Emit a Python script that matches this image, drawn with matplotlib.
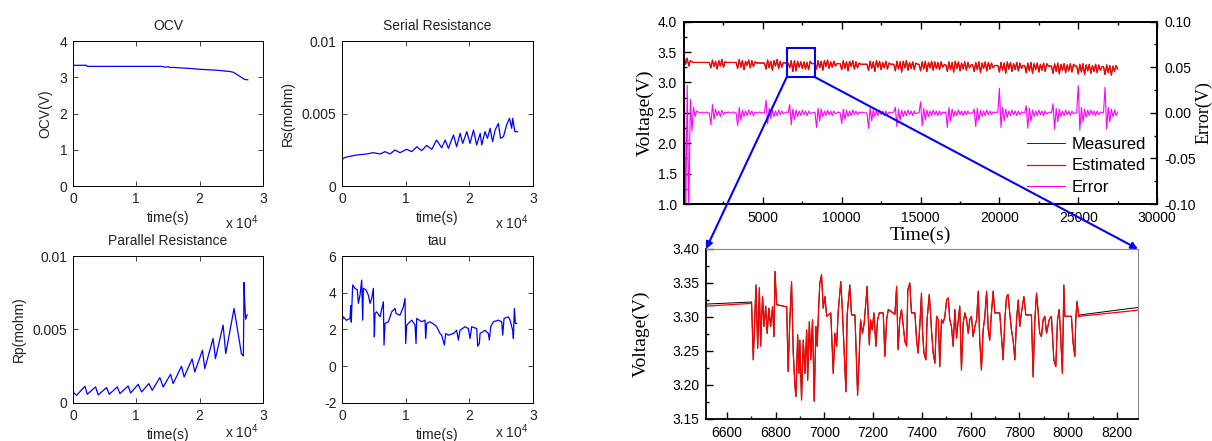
import matplotlib
matplotlib.use('Agg')
import matplotlib.pyplot as plt
import numpy as np
from matplotlib.patches import Rectangle, ConnectionPatch
from matplotlib.ticker import MultipleLocator

plt.rcParams['font.family'] = ['Liberation Sans', 'DejaVu Sans']
plt.rcParams['mathtext.fontset'] = 'custom'
plt.rcParams['mathtext.rm'] = 'Liberation Sans'
plt.rcParams['mathtext.it'] = 'Liberation Sans:italic'

# ---------------- left: identified parameters ----------------
t_ocv = [0, 2100, 2300, 14000, 14500, 15000, 15300, 16000, 18700, 20000, 22100,
         23000, 24700, 25300, 26300, 27100, 27600]
v_ocv = [3.33, 3.33, 3.30, 3.30, 3.28, 3.29, 3.27, 3.27, 3.24, 3.22, 3.20,
         3.19, 3.16, 3.14, 3.03, 2.94, 2.93]

t_rs = [0, 30, 150, 700, 2300, 3900, 4900, 6000, 6750, 7550,
        8300, 9100, 10150, 10950, 11750, 12500, 13300, 14100, 14850, 15650,
        16200, 16700, 17500, 18000, 18550, 18950, 19600, 20100, 20650, 21150,
        21700, 21950, 22450, 22850, 23250, 23650, 24050, 24550, 24900, 25350,
        25850, 26300, 26650, 26800, 27150, 27550]
v_rs = [0.0021, 0.0017, 0.0019, 0.0020, 0.00214, 0.00221, 0.0023, 0.00221, 0.00237, 0.00221,
        0.00248, 0.0023, 0.00253, 0.00237, 0.00271, 0.00244, 0.0028, 0.00253, 0.00317, 0.00264,
        0.00317, 0.0026, 0.00352, 0.00271, 0.00363, 0.00294, 0.00375, 0.00294, 0.00386, 0.00283,
        0.00363, 0.00283, 0.00375, 0.00329, 0.00398, 0.00306, 0.00386, 0.00432, 0.00329, 0.0034,
        0.00421, 0.00467, 0.00398, 0.00467, 0.00375, 0.00375]

t_rp = [0, 100, 580, 1890, 2260, 3570, 3990, 5310, 5730, 6990,
        7410, 8720, 9090, 10300, 10830, 11980, 12510, 13720, 14240, 15400,
        15820, 17130, 17550, 18810, 19230, 20440, 20810, 22120, 22490, 23700,
        24120, 25430, 26590, 26900, 27010, 27100, 27250, 27500]
v_rp = [0.0012, 0.0007, 0.00052, 0.00114, 0.00059, 0.00109, 0.00055, 0.00105, 0.00059, 0.00109,
        0.00064, 0.00116, 0.00068, 0.00127, 0.00075, 0.00132, 0.00086, 0.00173, 0.00109, 0.00195,
        0.00132, 0.0025, 0.00177, 0.0030, 0.00211, 0.00359, 0.00234, 0.00439, 0.00302, 0.0053,
        0.00336, 0.00643, 0.00336, 0.0032, 0.0082, 0.0070, 0.0057, 0.0060]

t_tau = [0, 60, 209, 700, 1257, 1361, 1450, 1675, 2042, 2408, 2565, 2827, 3089, 3246, 3351,
         3770, 4136, 4398, 4660, 4921, 5079, 5183, 5445, 5969, 6492, 6597, 6754, 7277, 7801,
         8325, 8482, 9110, 9634, 9895, 10000, 10157, 10942, 11466, 11623, 11728, 12513, 13037,
         13141, 13298, 13822, 14607, 14869, 15393, 15654, 16073, 16283, 16702, 17487, 18010,
         18272, 18534, 19319, 19843, 20105, 20366, 21152, 21309, 21571, 21675, 22461, 22984,
         23141, 23351, 23770, 24555, 25079, 25236, 25445, 26126, 26387, 26806, 26911, 27068,
         27225, 27435]
v_tau = [0.69, 2.5, 2.69, 2.5, 2.6, 3.3, 2.4, 4.42, 4.24, 4.15, 3.42, 3.87, 4.69, 2.51, 4.24,
         4.15, 3.87, 3.42, 3.69, 4.24, 1.6, 2.87, 2.96, 2.69, 3.51, 1.15, 2.33, 2.42, 2.96,
         3.15, 2.87, 2.78, 3.24, 3.69, 1.24, 2.24, 2.51, 2.24, 1.24, 2.6, 2.42, 2.51,
         1.51, 2.33, 2.42, 2.24, 2.15, 1.78, 1.69, 1.15, 1.78, 1.69, 1.78, 1.96,
         1.42, 1.96, 2.15, 2.05, 1.51, 2.15, 2.05, 1.09, 1.24, 1.78, 1.96, 1.78,
         1.42, 2.15, 2.42, 2.51, 2.42, 1.69, 2.6, 2.69, 2.51, 1.96, 1.51, 3.15,
         2.33, 2.33]

# ---------------- right: full test, sampled every 100 s ----------------
v_est_top = [
    3.45, 3.30, 3.40, 3.27, 3.36,
    3.34, 3.33, 3.33, 3.33, 3.33, 3.33, 3.33, 3.33, 3.33, 3.33, 3.33, 3.33,
    3.24, 3.37, 3.26, 3.35, 3.22, 3.36, 3.27, 3.38, 3.25, 3.34,
    3.33, 3.33, 3.33, 3.33, 3.33, 3.33, 3.33,
    3.23, 3.38, 3.25, 3.36, 3.21, 3.35, 3.28, 3.37, 3.24, 3.36, 3.26, 3.34,
    3.32, 3.32, 3.32, 3.32, 3.32, 3.32,
    3.22, 3.37, 3.24, 3.35, 3.20, 3.36, 3.27, 3.38, 3.23, 3.35, 3.25, 3.33,
    3.32, 3.32, 3.32,
    3.24, 3.36, 3.18, 3.36, 3.19, 3.35, 3.25, 3.34, 3.23, 3.34, 3.22, 3.33, 3.21, 3.35,
    3.31, 3.31, 3.31,
    3.22, 3.36, 3.24, 3.35, 3.20, 3.36, 3.26, 3.37, 3.23, 3.34, 3.25, 3.35, 3.27,
    3.31, 3.31, 3.31,
    3.21, 3.36, 3.23, 3.34, 3.19, 3.35, 3.26, 3.36, 3.22, 3.34, 3.24, 3.32,
    3.30, 3.30, 3.30, 3.30, 3.30,
    3.20, 3.35, 3.23, 3.34, 3.18, 3.36, 3.25, 3.35, 3.21, 3.33, 3.24, 3.35, 3.22, 3.32,
    3.30, 3.30, 3.30,
    3.19, 3.35, 3.22, 3.34, 3.17, 3.35, 3.24, 3.36, 3.20, 3.33, 3.23, 3.34, 3.21, 3.32,
    3.30, 3.30,
    3.19, 3.34, 3.22, 3.35, 3.18, 3.33, 3.24, 3.35, 3.20, 3.34, 3.23, 3.33, 3.21, 3.34, 3.25,
    3.29, 3.29,
    3.18, 3.34, 3.21, 3.33, 3.17, 3.35, 3.23, 3.34, 3.19, 3.32, 3.22, 3.34, 3.20, 3.33, 3.24,
    3.29, 3.29,
    3.18, 3.33, 3.21, 3.34, 3.16, 3.32, 3.23, 3.34, 3.19, 3.33, 3.22, 3.32, 3.24,
    3.28, 3.28, 3.28,
    3.17, 3.33, 3.20, 3.32, 3.15, 3.34, 3.22, 3.33, 3.18, 3.31, 3.21, 3.33, 3.19, 3.32, 3.23,
    3.28, 3.28,
    3.16, 3.32, 3.19, 3.33, 3.15, 3.31, 3.21, 3.32, 3.17, 3.30, 3.20, 3.32, 3.18, 3.31,
    3.27, 3.27, 3.27,
    3.15, 3.31, 3.18, 3.32, 3.14, 3.30, 3.20, 3.31, 3.16, 3.29, 3.19, 3.31, 3.17, 3.30,
    3.27, 3.27,
    3.14, 3.30, 3.17, 3.31, 3.13, 3.29, 3.19, 3.30, 3.15, 3.28, 3.18, 3.30, 3.16, 3.29, 3.20,
    3.26, 3.26,
    3.13, 3.29, 3.16, 3.28, 3.12, 3.27, 3.18, 3.28, 3.22,
]
# measured trace lies under the estimate at this scale
v_meas_top = list(v_est_top)

err_top = [
    0.08, -0.12, 0.03, -0.11, 0.015,
    -0.02, 0.006, -0.004, 0.002, 0.001, 0.0, 0.001, 0.0, 0.0, 0.001, 0.0, 0.0,
    -0.013, 0.009, -0.007, 0.004, -0.003, 0.002, -0.004, 0.003, -0.002, 0.001,
    0.0, 0.001, 0.0, 0.0, 0.001, 0.0, 0.0,
    -0.014, 0.006, -0.008, 0.003, -0.004, 0.002, -0.003, 0.003, -0.002, 0.002, -0.003, 0.001,
    0.0, 0.0, 0.001, 0.0, 0.0, 0.0,
    0.014, -0.012, 0.005, -0.006, 0.003, -0.004, 0.002, -0.003, 0.003, -0.002, 0.002, -0.001,
    0.0, 0.001, 0.0,
    0.009, -0.013, 0.004, -0.007, 0.003, -0.004, 0.002, -0.003, 0.003, -0.002, 0.002, -0.003, 0.002, -0.001,
    0.0, 0.0, 0.001,
    -0.016, 0.005, -0.009, 0.004, -0.004, 0.002, -0.003, 0.003, -0.002, 0.002, -0.003, 0.002, -0.001,
    0.0, 0.001, 0.0,
    -0.012, 0.004, -0.007, 0.003, -0.004, 0.002, -0.003, 0.003, -0.002, 0.002, -0.002, 0.001,
    0.0, 0.001, 0.0, 0.0, 0.0,
    -0.017, 0.005, -0.009, 0.003, -0.004, 0.002, -0.003, 0.003, -0.002, 0.002, -0.003, 0.002, -0.002, 0.001,
    0.0, 0.0, 0.001,
    0.006, -0.015, 0.004, -0.008, 0.003, -0.004, 0.002, -0.003, 0.003, -0.002, 0.002, -0.003, 0.002, -0.001,
    0.0, 0.0,
    0.012, -0.014, 0.005, -0.008, 0.003, -0.004, 0.002, -0.003, 0.003, -0.002, 0.002, -0.003, 0.002, -0.002, 0.001,
    0.0, 0.001,
    -0.016, 0.006, -0.009, 0.004, -0.004, 0.002, -0.003, 0.003, -0.002, 0.002, -0.003, 0.002, -0.002, 0.002, -0.001,
    0.0, 0.0,
    0.004, -0.015, 0.005, -0.008, 0.003, -0.004, 0.002, -0.003, 0.003, -0.002, 0.002, -0.002, 0.001,
    0.0, 0.001, 0.0,
    0.027, -0.016, 0.006, -0.009, 0.004, -0.005, 0.002, -0.003, 0.003, -0.002, 0.002, -0.003, 0.002, -0.002, 0.001,
    0.0, 0.0,
    0.008, -0.017, 0.005, -0.009, 0.003, -0.004, 0.002, -0.003, 0.003, -0.002, 0.002, -0.003, 0.002, -0.001,
    0.0, 0.001, 0.0,
    0.010, -0.018, 0.005, -0.010, 0.004, -0.004, 0.002, -0.003, 0.003, -0.002, 0.002, -0.003, 0.002, -0.001,
    0.0, 0.0,
    0.030, -0.019, 0.006, -0.010, 0.004, -0.005, 0.003, -0.003, 0.003, -0.002, 0.002, -0.003, 0.002, -0.002, 0.001,
    0.0, 0.0,
    0.028, -0.018, 0.006, -0.010, 0.004, -0.004, 0.003, -0.003, 0.001,
]
t_top = np.arange(len(v_est_top)) * 100

# ---------------- right: zoomed window 6514-8286 s ----------------
t_zoom = [6514, 6701, 6708, 6719, 6726, 6733, 6738, 6746, 6752, 6759,
          6765, 6772, 6779, 6787, 6793, 6797, 6804, 6845, 6851, 6858,
          6865, 6872, 6879, 6883, 6890, 6895, 6899, 6906, 6913, 6920,
          6927, 6931, 6938, 6944, 6951, 6958, 6965, 6970, 6977, 6981,
          6988, 6995, 7002, 7009, 7026, 7036, 7043, 7050, 7056, 7067,
          7074, 7088, 7093, 7104, 7111, 7125, 7136, 7143, 7148, 7156,
          7163, 7175, 7184, 7189, 7196, 7203, 7211, 7218, 7225, 7241,
          7248, 7255, 7262, 7289, 7296, 7302, 7309, 7316, 7330, 7337,
          7342, 7350, 7357, 7371, 7378, 7384, 7391, 7398, 7402, 7408,
          7416, 7421, 7430, 7435, 7439, 7446, 7453, 7460, 7467, 7473,
          7480, 7487, 7494, 7501, 7508, 7514, 7521, 7528, 7535, 7542,
          7549, 7555, 7562, 7569, 7576, 7583, 7590, 7596, 7603, 7610,
          7617, 7624, 7631, 7637, 7644, 7651, 7658, 7665, 7672, 7678,
          7685, 7692, 7699, 7719, 7733, 7740, 7747, 7753, 7760, 7767,
          7774, 7781, 7788, 7795, 7801, 7808, 7818, 7826, 7849, 7856,
          7863, 7870, 7877, 7883, 7890, 7897, 7904, 7911, 7922, 7931,
          7941, 7949, 7956, 7963, 7969, 7976, 7982, 7986, 8013, 8020,
          8027, 8031, 8036, 8043, 8047, 8286]
v_est_zoom = [3.316, 3.320, 3.237, 3.347, 3.254, 3.343, 3.257, 3.330, 3.286, 3.316,
              3.276, 3.313, 3.286, 3.315, 3.271, 3.367, 3.318, 3.315, 3.220, 3.296,
              3.352, 3.247, 3.198, 3.183, 3.274, 3.217, 3.266, 3.178, 3.266, 3.217,
              3.281, 3.207, 3.293, 3.237, 3.296, 3.176, 3.286, 3.257, 3.320, 3.350,
              3.362, 3.313, 3.330, 3.301, 3.306, 3.217, 3.276, 3.257, 3.306, 3.352,
              3.306, 3.190, 3.303, 3.347, 3.303, 3.303, 3.185, 3.247, 3.296, 3.276,
              3.291, 3.345, 3.259, 3.296, 3.281, 3.306, 3.257, 3.296, 3.306, 3.306,
              3.242, 3.296, 3.311, 3.304, 3.345, 3.252, 3.296, 3.311, 3.264, 3.257,
              3.340, 3.350, 3.306, 3.306, 3.266, 3.247, 3.286, 3.335, 3.281, 3.247,
              3.237, 3.296, 3.333, 3.306, 3.281, 3.247, 3.232, 3.301, 3.296, 3.227,
              3.296, 3.291, 3.301, 3.325, 3.328, 3.296, 3.286, 3.257, 3.311, 3.269,
              3.296, 3.316, 3.222, 3.291, 3.306, 3.296, 3.276, 3.296, 3.301, 3.271,
              3.286, 3.296, 3.338, 3.266, 3.222, 3.281, 3.301, 3.338, 3.281, 3.266,
              3.306, 3.338, 3.306, 3.306, 3.237, 3.296, 3.330, 3.333, 3.306, 3.281,
              3.266, 3.237, 3.296, 3.325, 3.286, 3.306, 3.330, 3.303, 3.303, 3.212,
              3.296, 3.335, 3.306, 3.276, 3.271, 3.296, 3.301, 3.276, 3.296, 3.301,
              3.237, 3.227, 3.296, 3.311, 3.271, 3.217, 3.347, 3.301, 3.301, 3.262,
              3.242, 3.296, 3.323, 3.301, 3.301, 3.310]
# measured: same through the pulses, a touch higher on the two rest parts
v_meas_zoom = [3.319, 3.322] + v_est_zoom[2:-2] + [3.303, 3.314]

zoom_x = (6514, 8286)
zoom_box_y = (3.09, 3.56)

fig = plt.figure(figsize=(12.12, 4.41), dpi=100)

ml_font = 10


def ml_axes(rect, t, v, title, ylabel, ylim, yticks, yticklabels, bottom_row):
    a = fig.add_axes(rect)
    a.plot(t, v, color='#0000ff', lw=0.9)
    a.set_xlim(0, 30000)
    a.set_ylim(*ylim)
    a.set_xticks([0, 10000, 20000, 30000])
    a.set_xticklabels(['0', '1', '2', '3'])
    a.set_yticks(yticks)
    a.set_yticklabels(yticklabels)
    a.tick_params(direction='in', top=True, right=True, length=3.5, width=0.6,
                  labelsize=ml_font, pad=4, colors='#222222')
    for s in a.spines.values():
        s.set_linewidth(0.7)
    a.set_title(title, fontsize=ml_font, pad=8, color='#222222')
    if ylabel:
        a.set_ylabel(ylabel, fontsize=ml_font, labelpad=5, color='#222222')
    a.set_xlabel('time(s)', fontsize=ml_font, labelpad=4, color='#222222')
    if bottom_row:
        # sits at the lower edge of the figure
        a.text(0.975, 0.0, r'x 10$^{4}$', transform=a.get_yaxis_transform().__class__(
            a.transAxes, fig.transFigure), ha='right', va='bottom', fontsize=ml_font,
            color='#222222')
    else:
        a.text(0.975, -0.19, r'x 10$^{4}$', transform=a.transAxes, ha='right', va='top',
               fontsize=ml_font, color='#222222')
    return a


ml_axes([0.0602, 0.5782, 0.1568, 0.3288], t_ocv, v_ocv, 'OCV', 'OCV(V)',
        (0, 4), [0, 1, 2, 3, 4], ['0', '1', '2', '3', '4'], False)
ml_axes([0.2822, 0.5782, 0.1576, 0.3288], t_rs, v_rs, 'Serial Resistance', 'Rs(mohm)',
        (0, 0.01), [0, 0.005, 0.01], ['0', '0.005', '0.01'], False)
ml_axes([0.0602, 0.0862, 0.1568, 0.3333], t_rp, v_rp, 'Parallel Resistance', 'Rp(mohm)',
        (0, 0.01), [0, 0.005, 0.01], ['0', '0.005', '0.01'], True)
ml_axes([0.2822, 0.0862, 0.1576, 0.3333], t_tau, v_tau, 'tau', None,
        (-2, 6), [-2, 0, 2, 4, 6], ['-2', '0', '2', '4', '6'], True)

# ---------------- top right: whole test ----------------
serif = 'Liberation Serif'
ax = fig.add_axes([0.5644, 0.5374, 0.3903, 0.4134])
l_meas, = ax.plot(t_top, v_meas_top, color='black', lw=0.6, label='Measured')
l_est, = ax.plot(t_top, v_est_top, color='red', lw=0.9, label='Estimated')
ax.set_xlim(0, 30000)
ax.set_ylim(1.0, 4.0)
ax.set_xticks(np.arange(5000, 30001, 5000))
ax.xaxis.set_minor_locator(MultipleLocator(2500))
ax.set_yticks(np.arange(1.0, 4.01, 0.5))
ax.set_yticklabels(['%.1f' % y for y in np.arange(1.0, 4.01, 0.5)])
ax.yaxis.set_minor_locator(MultipleLocator(0.25))
ax.tick_params(which='both', direction='in', top=True, width=1, labelsize=10, pad=5)
ax.tick_params(which='major', length=5)
ax.tick_params(which='minor', length=2.5)
for s in ax.spines.values():
    s.set_linewidth(1.3)
ax.set_xlabel('Time(s)', family=serif, fontsize=14, labelpad=1)
ax.set_ylabel('Voltage(V)', family=serif, fontsize=14, labelpad=3)

ax2 = ax.twinx()
l_err, = ax2.plot(t_top, err_top, color='magenta', lw=0.8, label='Error')
ax2.set_ylim(-0.1, 0.1)
ax2.set_yticks([-0.1, -0.05, 0.0, 0.05, 0.1])
ax2.set_yticklabels(['-0.10', '-0.05', '0.00', '0.05', '0.10'])
ax2.yaxis.set_minor_locator(MultipleLocator(0.025))
ax2.tick_params(which='both', direction='in', width=1, labelsize=10, pad=5)
ax2.tick_params(which='major', length=5)
ax2.tick_params(which='minor', length=2.5)
for s in ax2.spines.values():
    s.set_linewidth(1.3)
ax2.set_ylabel('Error(V)', family=serif, fontsize=13, labelpad=0)

ax2.legend([l_meas, l_est, l_err], ['Measured', 'Estimated', 'Error'],
           loc='upper left', bbox_to_anchor=(0.8474, 0.690), bbox_transform=fig.transFigure,
           frameon=False, fontsize=12, handlelength=2.3, handletextpad=0.35,
           labelspacing=0.4, borderpad=0, borderaxespad=0)

ax.add_patch(Rectangle((zoom_x[0], zoom_box_y[0]), zoom_x[1] - zoom_x[0],
                       zoom_box_y[1] - zoom_box_y[0], fill=False,
                       edgecolor='#0000ff', lw=1.5, zorder=5))

# ---------------- bottom right: zoom ----------------
axz = fig.add_axes([0.5825, 0.0499, 0.3564, 0.3855])
axz.plot(t_zoom, v_meas_zoom, color='black', lw=0.7)
axz.plot(t_zoom, v_est_zoom, color='red', lw=0.9)
axz.set_xlim(*zoom_x)
axz.set_ylim(3.15, 3.40)
axz.set_xticks(np.arange(6600, 8201, 200))
axz.xaxis.set_minor_locator(MultipleLocator(100))
yz = np.arange(3.15, 3.401, 0.05)
axz.set_yticks(yz)
axz.set_yticklabels(['%.2f' % y for y in yz])
axz.yaxis.set_minor_locator(MultipleLocator(0.025))
axz.tick_params(which='both', direction='in', width=1, labelsize=10, pad=5)
axz.tick_params(which='major', length=5)
axz.tick_params(which='minor', length=2.5)
axz.spines['left'].set_linewidth(1.3)
axz.spines['bottom'].set_linewidth(1.3)
for side in ('top', 'right'):
    axz.spines[side].set_linewidth(0.8)
    axz.spines[side].set_color('#888888')
axz.set_ylabel('Voltage(V)', family=serif, fontsize=14, labelpad=16)

for xa in zoom_x:
    con = ConnectionPatch(xyA=(xa, zoom_box_y[0]), coordsA=ax.transData,
                          xyB=(xa, 3.40), coordsB=axz.transData,
                          arrowstyle='-|>', mutation_scale=10, shrinkA=0, shrinkB=0,
                          color='#0000ff', lw=1.5, zorder=10)
    fig.add_artist(con)

fig.savefig('out.png', dpi=100)
